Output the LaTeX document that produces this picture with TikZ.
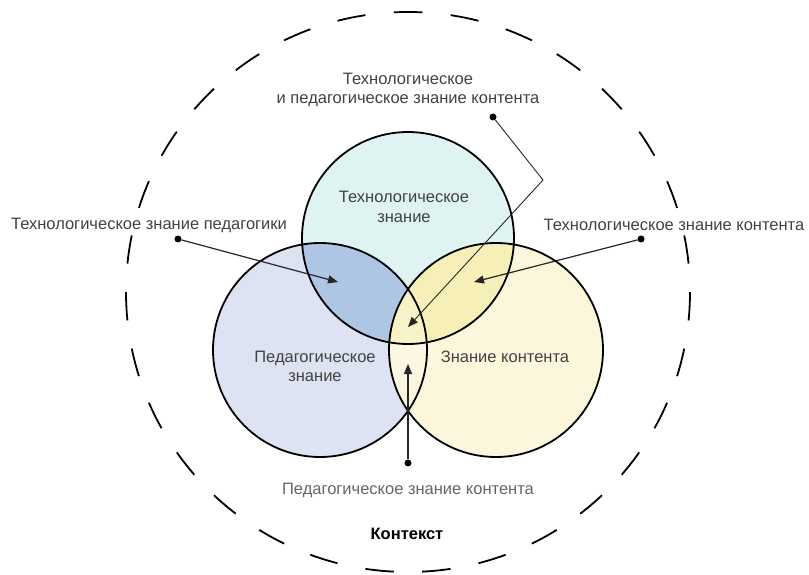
\documentclass[tikz,border=0pt]{standalone}
\usepackage{fontspec}
\setmainfont{Liberation Sans}
\usetikzlibrary{arrows.meta}
\definecolor{ctop}{HTML}{DFF3F3}
\definecolor{cleft}{HTML}{DDE3F3}
\definecolor{cright}{HTML}{FCF7DC}
\definecolor{ctl}{HTML}{AEC5E4}
\definecolor{ctr}{HTML}{F6F0B8}
\definecolor{clr}{HTML}{FBF7E0}
\definecolor{ctrip}{HTML}{F8F3C6}
\definecolor{labelgray}{HTML}{424242}
\definecolor{lightgray}{HTML}{666666}
\begin{document}
\begin{tikzpicture}[x=1pt,y=1pt,
  ring/.style={draw=black, line width=1.8pt},
  lbl/.style={text=labelgray, font=\fontsize{16.5}{19.5}\selectfont, align=center, inner sep=0pt},
  dotnode/.style={circle, fill=black, inner sep=0pt, minimum size=7pt},
  pointer/.style={draw=black!85, line width=1.2pt, -{Triangle[length=10pt,width=8pt]}},
  contextring/.style={draw=black, line width=1.8pt, dash pattern=on 28.48pt off 28.48pt, dash phase=14.24pt}
]
\useasboundingbox (0,0) rectangle (809,574);
\fill[white] (0,0) rectangle (809,574);

% circle centres
\coordinate (cT) at (408,336);
\coordinate (cL) at (320,224);
\coordinate (cR) at (496,224);

% base fills
\fill[ctop] (cT) circle[radius=106];
\fill[cleft] (cL) circle[radius=107];
\fill[cright] (cR) circle[radius=107];
% pairwise intersections
\begin{scope}
  \clip (cL) circle[radius=107];
  \fill[clr] (cR) circle[radius=107];
\end{scope}
\begin{scope}
  \clip (cT) circle[radius=106];
  \fill[ctl] (cL) circle[radius=107];
  \fill[ctr] (cR) circle[radius=107];
\end{scope}
% triple intersection
\begin{scope}
  \clip (cT) circle[radius=106];
  \clip (cL) circle[radius=107];
  \fill[ctrip] (cR) circle[radius=107];
\end{scope}
% outlines
\draw[ring] (cT) circle[radius=106];
\draw[ring] (cL) circle[radius=107];
\draw[ring] (cR) circle[radius=107];

% outer dashed context ellipse
\coordinate (ctxtop) at (408,562);
\draw[contextring] (ctxtop) arc[start angle=90, end angle=450, x radius=282, y radius=280];

% texts
\node[lbl] (tpck) at (408,484) {Технологическое\\и педагогическое знание контента};
\node[lbl] (tpk) at (149,349) {Технологическое знание педагогики};
\node[lbl] (tck) at (674,349) {Технологическое знание контента};
\node[lbl] (tk) at (404,367) {Технологическое\\знание};
\node[lbl] (pk) at (315,207.5) {Педагогическое\\знание};
\node[lbl] (ck) at (505,217) {Знание контента};
\node[lbl, text=lightgray] (pck) at (408,84) {Педагогическое знание контента};
\node[inner sep=0pt, font=\fontsize{16.5}{19}\selectfont\bfseries] (ctx) at (407,40) {Контекст};

% connectors
\coordinate (tipL) at (338,292);
\coordinate (tipR) at (474,292);
\coordinate (bend) at (543,394);
\coordinate (tipC) at (408,247);
\coordinate (tipB) at (408,210);
\node[dotnode] (dL) at (178,335) {};
\node[dotnode] (dR) at (641,335) {};
\node[dotnode] (dT) at (493,457) {};
\node[dotnode] (dB) at (408,111) {};
\draw[pointer] (dL) -- (tipL);
\draw[pointer] (dR) -- (tipR);
\draw[pointer, line width=0.9pt] (dT) -- (bend) -- (tipC);
\draw[pointer] (dB) -- (tipB);
\end{tikzpicture}
\end{document}
